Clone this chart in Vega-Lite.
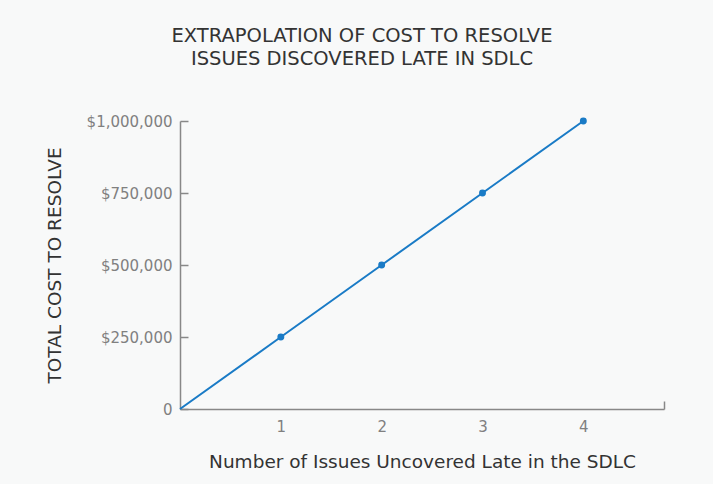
{
  "$schema": "https://vega.github.io/schema/vega-lite/v6.json",
  "autosize": "none",
  "width": 484,
  "height": 288,
  "padding": {"left": 180, "top": 121, "right": 49, "bottom": 75},
  "background": "#f8f9f9",
  "title": {
    "text": ["EXTRAPOLATION OF COST TO RESOLVE", "ISSUES DISCOVERED LATE IN SDLC"],
    "font": "DejaVu Sans",
    "fontSize": 19.5,
    "fontWeight": "normal",
    "color": "#333333",
    "anchor": "middle",
    "dx": -60,
    "offset": 45,
    "lineHeight": 23
  },
  "data": {
    "values": [
      {"issues": 0, "cost": 0},
      {"issues": 1, "cost": 250000},
      {"issues": 2, "cost": 500000},
      {"issues": 3, "cost": 750000},
      {"issues": 4, "cost": 1000000}
    ]
  },
  "config": {
    "view": {"stroke": null},
    "axis": {
      "grid": false,
      "domainColor": "#888888",
      "domainWidth": 1.5,
      "tickColor": "#888888",
      "tickWidth": 1.5,
      "labelFont": "DejaVu Sans",
      "labelFontSize": 15,
      "labelColor": "#808080",
      "titleFont": "DejaVu Sans",
      "titleFontSize": 18.5,
      "titleFontWeight": "normal",
      "titleColor": "#333333"
    }
  },
  "encoding": {
    "x": {
      "field": "issues",
      "type": "quantitative",
      "scale": {"domain": [0, 4.8], "nice": false, "zero": true},
      "axis": {
        "title": "Number of Issues Uncovered Late in the SDLC",
        "values": [0, 1, 2, 3, 4, 4.8],
        "tickSize": -8,
        "tickOpacity": {"condition": {"test": "datum.value > 4.5", "value": 1}, "value": 0},
        "labelExpr": "datum.value >= 1 && datum.value <= 4 ? datum.label : ''",
        "labelPadding": 18,
        "titlePadding": 18
      }
    },
    "y": {
      "field": "cost",
      "type": "quantitative",
      "scale": {"domain": [0, 1000000], "nice": false},
      "axis": {
        "title": "TOTAL COST TO RESOLVE",
        "values": [0, 250000, 500000, 750000, 1000000],
        "labelExpr": "datum.value == 0 ? '0' : '$' + format(datum.value, ',')",
        "tickSize": -8,
        "labelPadding": 16,
        "titlePadding": 22
      }
    }
  },
  "layer": [
    {"mark": {"type": "line", "color": "#1a7bc6", "strokeWidth": 2}},
    {
      "transform": [{"filter": "datum.issues > 0"}],
      "mark": {"type": "point", "filled": true, "color": "#1a7bc6", "size": 48, "opacity": 1}
    }
  ]
}
